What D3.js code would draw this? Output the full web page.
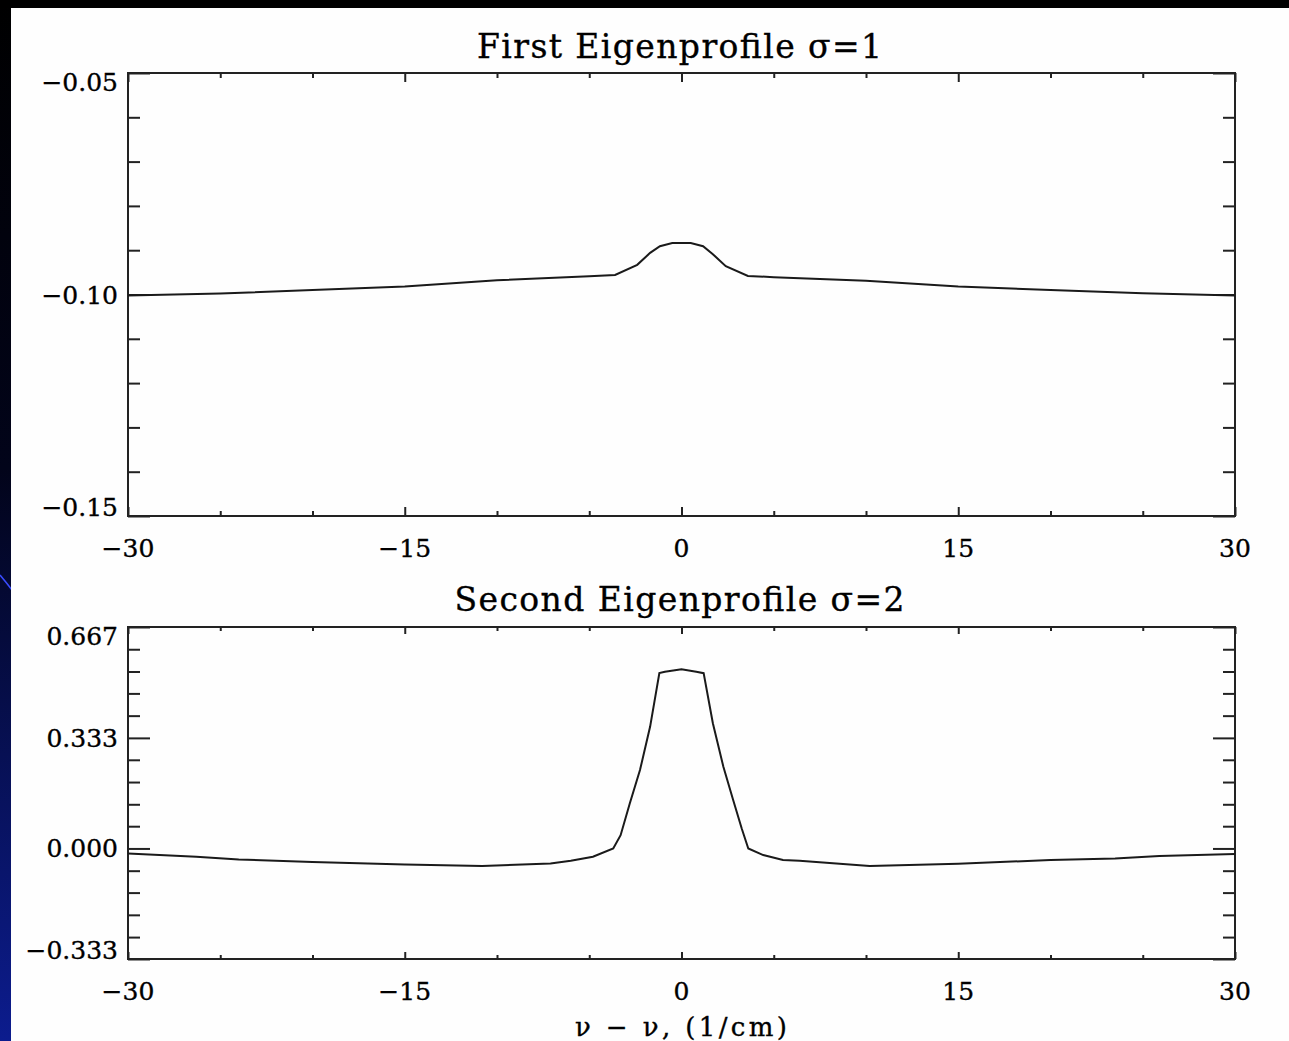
<!DOCTYPE html>
<html>
<head>
<meta charset="utf-8">
<script src="https://cdn.jsdelivr.net/npm/d3@7"></script>
<style>
  body { margin: 0; background: #000; }
  svg { display: block; }
  text { font-family: "DejaVu Serif", "Liberation Serif", serif; fill: #000; stroke: #000; stroke-width: 0.35px; }
</style>
</head>
<body>
<script>
const w = 1289;
const h = 1041;

// x axis (shared)
const xDomain = [-30, 30];
const xMajor = [-30, -15, 0, 15, 30];
const xMinor = [-25, -20, -10, -5, 5, 10, 20, 25];
const xLabels = ["\u221230", "\u221215", "0", "15", "30"];

// first eigenprofile
const topTitle = "First Eigenprofile \u03c3=1";
const topDomain = [-0.15, -0.05];
const topMajor = [-0.15, -0.10, -0.05];
const topMinor = [-0.14, -0.13, -0.12, -0.11, -0.09, -0.08, -0.07, -0.06];
const topLabels = ["\u22120.15", "\u22120.10", "\u22120.05"];
const topX = [-30, -25, -20, -15, -10, -5, -3.6, -2.4, -1.7, -1.17, -0.5, 0.5, 1.17, 1.7, 2.4, 3.6, 5, 10, 15, 20, 25, 30];
const topY = [-0.1002, -0.0998, -0.0990, -0.0982, -0.0968, -0.0959, -0.0956, -0.0933, -0.0906, -0.0891, -0.0884, -0.0884, -0.0891, -0.0909, -0.0936, -0.0958, -0.0961, -0.0969, -0.0982, -0.0990, -0.0997, -0.1002];

// second eigenprofile
const botTitle = "Second Eigenprofile \u03c3=2";
const botDomain = [-0.333, 0.667];
const botMajor = [-0.333, 0, 0.333, 0.667];
const botMinor = [-0.267, -0.2, -0.133, -0.067, 0.067, 0.133, 0.2, 0.267, 0.4, 0.467, 0.533, 0.6];
const botLabels = ["\u22120.333", "0.000", "0.333", "0.667"];
const botX = [-30, -26.3, -24, -20, -15, -10.8, -7.1, -6.0, -4.8, -3.7, -3.3, -2.8, -2.25, -1.7, -1.2, -0.9, 0, 0.8, 1.2, 1.7, 2.27, 2.8, 3.26, 3.62, 4.43, 5.5, 6.4, 10.2, 15, 20, 23.5, 25.9, 30];
const botY = [-0.015, -0.025, -0.033, -0.041, -0.048, -0.053, -0.045, -0.037, -0.025, 0.000, 0.040, 0.136, 0.236, 0.367, 0.528, 0.532, 0.540, 0.532, 0.528, 0.377, 0.246, 0.146, 0.061, 0.000, -0.020, -0.035, -0.037, -0.053, -0.046, -0.035, -0.030, -0.023, -0.017];

const xTitle = "\u03bd \u2212 \u03bd, (1/cm)";

const svg = d3.select("body").append("svg")
  .attr("width", w)
  .attr("height", h);

// slide background strip on the left and top
const grad = svg.append("defs").append("linearGradient")
  .attr("id", "slide").attr("x1", 0).attr("y1", 0).attr("x2", 0).attr("y2", 1);
grad.append("stop").attr("offset", "0%").attr("stop-color", "#000");
grad.append("stop").attr("offset", "45%").attr("stop-color", "#02041a");
grad.append("stop").attr("offset", "100%").attr("stop-color", "#0c1c8e");
svg.append("rect").attr("width", w).attr("height", h).attr("fill", "url(#slide)");
svg.append("rect").attr("x", 0).attr("y", 0).attr("width", w).attr("height", 8).attr("fill", "#000");
svg.append("path")
  .attr("d", "M0,575 Q6,582 12,590")
  .attr("fill", "none").attr("stroke", "#3a4cff").attr("stroke-width", 1.5);
svg.append("rect").attr("x", 11).attr("y", 8).attr("width", w - 11).attr("height", h - 8).attr("fill", "#fefefe");

function panel(box, yDomain, yMajor, yMinor, yLabels, xs, ys, title, titleY, titleLen) {
  const x = d3.scaleLinear().domain(xDomain).range([box.left, box.right]);
  const y = d3.scaleLinear().domain(yDomain).range([box.bottom, box.top]);
  const ph = box.bottom - box.top;
  const xMaj = Math.round(ph * 0.02), xMin = Math.round(ph * 0.012);

  const g = svg.append("g").attr("class", "panel");

  const axes = [
    [d3.axisLeft(y).tickValues(yMajor).tickSize(-22), box.left, 0],
    [d3.axisLeft(y).tickValues(yMinor).tickSize(-12), box.left, 0],
    [d3.axisRight(y).tickValues(yMajor).tickSize(-22), box.right, 0],
    [d3.axisRight(y).tickValues(yMinor).tickSize(-12), box.right, 0],
    [d3.axisBottom(x).tickValues(xMajor).tickSize(-xMaj), 0, box.bottom],
    [d3.axisBottom(x).tickValues(xMinor).tickSize(-xMin), 0, box.bottom],
    [d3.axisTop(x).tickValues(xMajor).tickSize(-xMaj), 0, box.top],
    [d3.axisTop(x).tickValues(xMinor).tickSize(-xMin), 0, box.top]
  ];
  axes.forEach(([ax, tx, ty]) => {
    const a = g.append("g")
      .attr("transform", "translate(" + tx + "," + ty + ")")
      .call(ax.tickFormat(""));
    a.select(".domain").remove();
    a.selectAll("line").attr("stroke", "#222").attr("stroke-width", 2);
  });

  g.append("rect")
    .attr("x", box.left).attr("y", box.top)
    .attr("width", box.right - box.left).attr("height", ph)
    .attr("fill", "none").attr("stroke", "#222").attr("stroke-width", 2);

  // y labels, kept inside the plot's vertical extent
  const lh = 18;
  g.selectAll(".ylab").data(yMajor).enter().append("text")
    .attr("class", "ylab")
    .attr("x", box.left - 10)
    .attr("y", d => Math.max(box.top + lh, Math.min(box.bottom, y(d) + lh / 2)))
    .attr("text-anchor", "end")
    .style("font-size", "25px")
    .text((d, i) => yLabels[i]);

  g.selectAll(".xlab").data(xMajor).enter().append("text")
    .attr("class", "xlab")
    .attr("x", d => x(d))
    .attr("y", box.bottom + 41)
    .attr("text-anchor", "middle")
    .style("font-size", "25px")
    .text((d, i) => xLabels[i]);

  g.append("text")
    .attr("x", (box.left + box.right) / 2 - 2)
    .attr("y", titleY)
    .attr("text-anchor", "middle")
    .attr("textLength", titleLen)
    .attr("lengthAdjust", "spacing")
    .style("font-size", "33px")
    .text(title);

  const line = d3.line().x(d => x(d[0])).y(d => y(d[1]));
  g.append("path")
    .datum(d3.zip(xs, ys))
    .attr("d", line)
    .attr("fill", "none")
    .attr("stroke", "#1a1a1a")
    .attr("stroke-width", 2);
}

panel({ left: 128, right: 1235, top: 73, bottom: 516 },
  topDomain, topMajor, topMinor, topLabels, topX, topY, topTitle, 58, 405);
panel({ left: 128, right: 1235, top: 627, bottom: 959 },
  botDomain, botMajor, botMinor, botLabels, botX, botY, botTitle, 611, 450);

svg.append("text")
  .attr("x", 681)
  .attr("y", 1036)
  .attr("text-anchor", "middle")
  .attr("textLength", 212)
  .attr("lengthAdjust", "spacing")
  .style("font-size", "26px")
  .text(xTitle);
</script>
</body>
</html>
